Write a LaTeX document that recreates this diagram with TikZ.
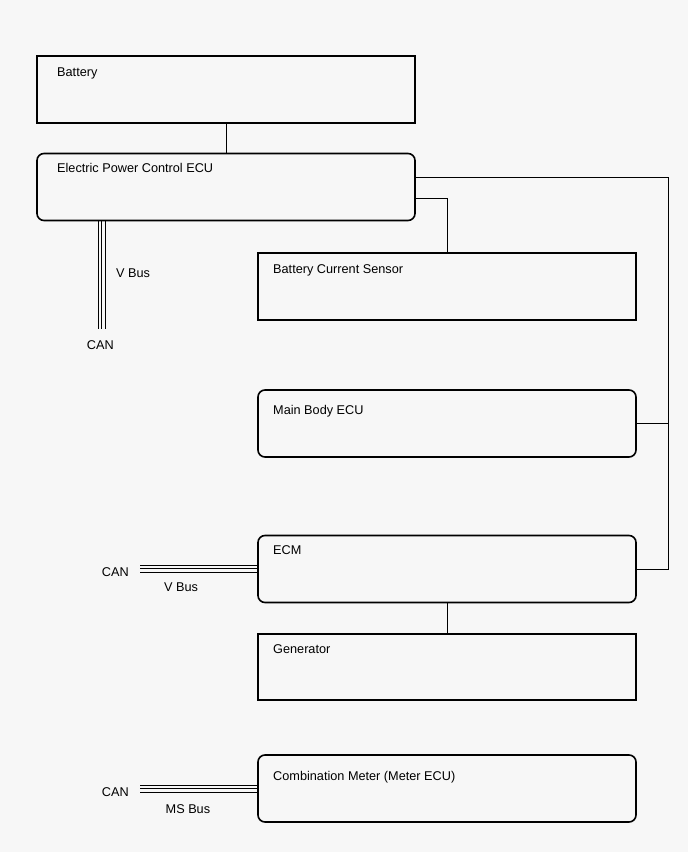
\documentclass[tikz,border=0pt]{standalone}
\usepackage{fontspec}
\setmainfont{Liberation Sans}
\begin{document}
\begin{tikzpicture}[x=1pt,y=-1pt,
  box/.style={draw=black,line width=1.6pt,rectangle,inner sep=0pt,outer sep=0pt,minimum width=378pt,minimum height=67pt},
  rbox/.style={box,rounded corners=7pt},
  wire/.style={draw=black,line width=1pt},
  lbl/.style={anchor=base west,inner sep=0pt,font=\fontsize{12.7}{14}\selectfont},
  tag/.style={anchor=base west,inner sep=0pt,font=\fontsize{12.7}{14}\selectfont},
  bus/.style={draw=black,line width=0.9pt}]
\fill[fill={rgb,255:red,247;green,247;blue,247}] (0,0) rectangle (688,852);
\useasboundingbox (0,0) rectangle (688,852);
% boxes
\node[box]  (bat) at (226,89.5) {};
\node[rbox] (epc) at (226,187) {};
\node[box]  (bcs) at (447,286.5) {};
\node[rbox] (mb)  at (447,423.5) {};
\node[rbox] (ecm) at (447,569) {};
\node[box,minimum height=66pt]  (gen) at (447,667) {};
\node[rbox] (cm)  at (447,788.5) {};
% box labels
\node[lbl] (tbat) at (57,76.5) {Battery};
\node[lbl] (tepc) at (57,172.3) {Electric Power Control ECU};
\node[lbl] (tbcs) at (273,273.3) {Battery Current Sensor};
\node[lbl] (tmb)  at (273,414) {Main Body ECU};
\node[lbl] (tecm) at (273,554.3) {ECM};
\node[lbl] (tgen) at (273,653.3) {Generator};
\node[lbl] (tcm)  at (273,780) {Combination Meter (Meter ECU)};
% connectors
\coordinate (rail) at (668,177);
\draw[wire] (bat.south) -- (epc.north);
\draw[wire] ([yshift=10pt]epc.east) -- (rail) |- (ecm.east);
\draw[wire] (mb.east) -- (mb.east -| rail);
\draw[wire] ([yshift=-11pt]epc.east) -| (bcs.north);
\draw[wire] (ecm.south) -- (gen.north);
% buses
\foreach \dx in {98.3,101.8,105.3} \draw[bus] (\dx,220.8) -- (\dx,329);
\node[tag] (vb1) at (116,277.3) {V Bus};
\node[tag] (can1) at (86.7,349) {CAN};
\foreach \dy in {565,568.7,572.4} \draw[bus] (140,\dy) -- (257.2,\dy);
\node[tag] (can2) at (101.7,576.7) {CAN};
\node[tag] (vb2) at (164,591) {V Bus};
\foreach \dy in {785,788.8,792.6} \draw[bus] (140,\dy) -- (257.2,\dy);
\node[tag] (can3) at (101.7,796.7) {CAN};
\node[tag] (ms) at (165.5,813.3) {MS Bus};
\end{tikzpicture}
\end{document}
